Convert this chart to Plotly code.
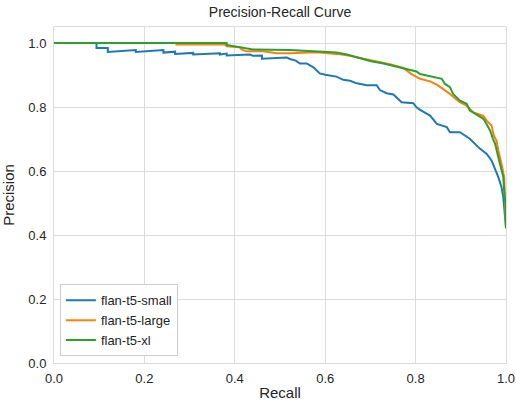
import plotly.graph_objects as go

# Precision-recall points per model (recall, precision)
small_recall = [0.0, 0.094, 0.094, 0.119, 0.119, 0.181, 0.181, 0.242, 0.242, 0.268, 0.268,
                0.308, 0.308, 0.367, 0.367, 0.382, 0.382, 0.434, 0.440, 0.460, 0.460, 0.515,
                0.522, 0.535, 0.544, 0.559, 0.574, 0.588, 0.600, 0.625, 0.640, 0.655, 0.670,
                0.692, 0.714, 0.721, 0.736, 0.751, 0.769, 0.795, 0.802, 0.810, 0.832, 0.847,
                0.869, 0.876, 0.898, 0.920, 0.942, 0.957, 0.968, 0.976, 0.983, 0.990, 0.994,
                0.996, 1.0]
small_precision = [1.0, 1.0, 0.984, 0.984, 0.972, 0.978, 0.972, 0.978, 0.970, 0.973, 0.966,
                   0.969, 0.964, 0.968, 0.964, 0.967, 0.961, 0.964, 0.960, 0.961, 0.951, 0.955,
                   0.950, 0.945, 0.936, 0.936, 0.924, 0.905, 0.901, 0.895, 0.885, 0.882, 0.874,
                   0.868, 0.868, 0.853, 0.843, 0.839, 0.815, 0.812, 0.799, 0.791, 0.773, 0.747,
                   0.737, 0.721, 0.721, 0.701, 0.670, 0.654, 0.633, 0.607, 0.581, 0.550, 0.519,
                   0.487, 0.421]

large_recall = [0.0, 0.271, 0.271, 0.378, 0.382, 0.411, 0.415, 0.426, 0.462, 0.478, 0.493,
                0.522, 0.581, 0.625, 0.655, 0.677, 0.706, 0.743, 0.773, 0.791, 0.810, 0.832,
                0.847, 0.861, 0.876, 0.883, 0.898, 0.913, 0.928, 0.950, 0.957, 0.968, 0.973,
                0.979, 0.983, 0.990, 0.996, 1.0]
large_precision = [1.0, 1.0, 0.995, 0.995, 0.990, 0.987, 0.980, 0.974, 0.974, 0.971, 0.968,
                   0.968, 0.971, 0.966, 0.960, 0.953, 0.944, 0.934, 0.922, 0.903, 0.888, 0.880,
                   0.870, 0.857, 0.841, 0.832, 0.815, 0.804, 0.783, 0.772, 0.758, 0.742, 0.711,
                   0.695, 0.664, 0.623, 0.581, 0.421]

xl_recall = [0.0, 0.382, 0.382, 0.418, 0.440, 0.522, 0.581, 0.625, 0.648, 0.677, 0.699,
             0.729, 0.758, 0.780, 0.802, 0.810, 0.839, 0.858, 0.865, 0.876, 0.883, 0.898,
             0.913, 0.920, 0.935, 0.950, 0.957, 0.965, 0.971, 0.976, 0.983, 0.990, 0.994,
             0.996, 0.999, 1.0]
xl_precision = [1.0, 1.0, 0.994, 0.986, 0.980, 0.978, 0.974, 0.970, 0.964, 0.953, 0.944,
                0.936, 0.926, 0.917, 0.911, 0.903, 0.895, 0.888, 0.872, 0.862, 0.841, 0.820,
                0.810, 0.789, 0.776, 0.763, 0.747, 0.726, 0.701, 0.685, 0.643, 0.607, 0.581,
                0.539, 0.493, 0.421]

series = [
    ("flan-t5-small", small_recall, small_precision, "#1f77b4"),
    ("flan-t5-large", large_recall, large_precision, "#ff7f0e"),
    ("flan-t5-xl", xl_recall, xl_precision, "#2ca02c"),
]

font_family = "Arial, Liberation Sans, sans-serif"
grid = "#dcdcdc"

fig = go.Figure()
for name, r, p, color in series:
    fig.add_trace(go.Scatter(x=r, y=p, mode="lines", name=name,
                             line=dict(color=color, width=2)))

fig.update_layout(
    width=516, height=401,
    margin=dict(l=54, r=10, t=27, b=38, autoexpand=False),
    paper_bgcolor="white", plot_bgcolor="white",
    font=dict(family=font_family, size=13, color="#262626"),
    title=dict(text="Precision-Recall Curve", x=0.5, xref="paper",
               y=1 - 12 / 401, yref="container", yanchor="middle",
               font=dict(size=14, color="#262626")),
    legend=dict(x=0.013, y=0.02, xanchor="left", yanchor="bottom",
                bgcolor="white", bordercolor="#cccccc", borderwidth=1,
                font=dict(size=13), tracegroupgap=0),
    showlegend=True,
)
fig.update_xaxes(range=[0, 1], tickvals=[0, 0.2, 0.4, 0.6, 0.8, 1.0], tickformat=".1f",
                 showgrid=True, gridcolor=grid, gridwidth=1, automargin=False,
                 showline=True, linecolor=grid, linewidth=1, mirror=True,
                 zeroline=False, ticks="", ticklabelstandoff=3,
                 title=dict(text="Recall", font=dict(size=15)))
fig.update_yaxes(range=[0, 1.05], tickvals=[0, 0.2, 0.4, 0.6, 0.8, 1.0], tickformat=".1f",
                 showgrid=True, gridcolor=grid, gridwidth=1, automargin=False,
                 showline=True, linecolor=grid, linewidth=1, mirror=True,
                 zeroline=False, ticks="", ticklabelstandoff=4,
                 title=dict(text="Precision", font=dict(size=15)))

fig.write_html("out.html")
